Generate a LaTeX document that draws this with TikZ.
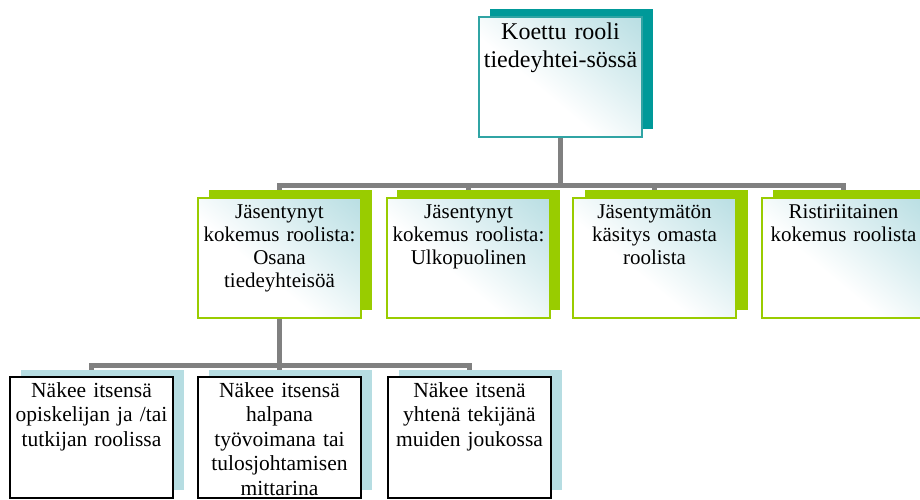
\documentclass[tikz,border=0pt]{standalone}
\usepackage{fontspec}
\setmainfont{Liberation Serif}
\definecolor{tealdark}{HTML}{009999}
\definecolor{tealborder}{HTML}{30A4A4}
\definecolor{lime}{HTML}{99CC00}
\definecolor{paleblue}{HTML}{B6DDE2}
\definecolor{gradblue}{HTML}{B4DCE1}
\definecolor{conncol}{HTML}{808080}
\pgfdeclareverticalshading{cornerfade}{100bp}{color(0bp)=(white); color(42bp)=(white); color(62bp)=(gradblue!45!white); color(88bp)=(gradblue); color(100bp)=(gradblue)}
\pgfdeclarelayer{bg}
\pgfsetlayers{bg,main}
\tikzset{
  boxw/.style={minimum width=163pt, minimum height=120pt, inner sep=0pt, outer sep=0pt, anchor=north west},
  shadowbox/.style={boxw, draw=none},
  frontbox/.style={boxw, line width=2pt},
  gradbox/.style={frontbox, shade, shading=cornerfade, shading angle=-40},
  plainbox/.style={frontbox, draw=black, fill=white, minimum height=121pt},
  lbl/.style={anchor=north, inner sep=0pt, align=center, text width=162pt},
  toplbl/.style={lbl, font=\fontsize{24}{28}\selectfont},
  midlbl/.style={lbl, font=\fontsize{21}{23.3}\selectfont},
  lowlbl/.style={lbl, font=\fontsize{21.5}{24.5}\selectfont},
  conn/.style={draw=conncol, line width=5pt},
}
\begin{document}
\begin{tikzpicture}[x=1pt,y=-1pt]
\useasboundingbox (0,0) rectangle (920,499);
% top
\node[shadowbox, fill=tealdark] (tops) at (490,9) {};
\node[gradbox, draw=tealborder] (top) at (479,17) {};
\node[toplbl] (topt) at ([yshift=-3pt]top.north) {\strut Koettu rooli\\tiedeyhtei-sössä};
% level 2
\node[shadowbox, fill=lime] (s1) at (209,190) {};
\node[gradbox, draw=lime] (c1) at (198,198) {};
\node[midlbl] (c1t) at ([yshift=-3.5pt]c1.north) {\strut Jäsentynyt\\kokemus roolista:\\Osana\\tiedeyhteisöä};
\node[shadowbox, fill=lime] (s2) at (397,190) {};
\node[gradbox, draw=lime] (c2) at (387,198) {};
\node[midlbl] (c2t) at ([yshift=-3.5pt]c2.north) {\strut Jäsentynyt\\kokemus roolista:\\Ulkopuolinen};
\node[shadowbox, fill=lime] (s3) at (585,190) {};
\node[gradbox, draw=lime] (c3) at (573,198) {};
\node[midlbl] (c3t) at ([yshift=-3.5pt]c3.north) {\strut Jäsentymätön\\käsitys omasta\\roolista};
\node[shadowbox, fill=lime] (s4) at (773,190) {};
\node[gradbox, draw=lime] (c4) at (762,198) {};
\node[midlbl] (c4t) at ([yshift=-3.5pt]c4.north) {\strut Ristiriitainen\\kokemus roolista};
% level 3
\node[shadowbox, fill=paleblue] (sa) at (21,370) {};
\node[plainbox] (ga) at (10,377) {};
\node[lowlbl] (gat) at ([yshift=-2.8pt]ga.north) {\strut Näkee itsensä\\opiskelijan ja /tai\\tutkijan roolissa};
\node[shadowbox, fill=paleblue] (sb) at (209,370) {};
\node[plainbox] (gb) at (198,377) {};
\node[lowlbl] (gbt) at ([yshift=-2.8pt]gb.north) {\strut Näkee itsensä\\halpana\\työvoimana tai\\tulosjohtamisen\\mittarina};
\node[shadowbox, fill=paleblue] (sc) at (399,370) {};
\node[plainbox] (gc) at (388,377) {};
\node[lowlbl] (gct) at ([yshift=-2.8pt]gc.north) {\strut Näkee itsenä\\yhtenä tekijänä\\muiden joukossa};
% connectors
\begin{pgfonlayer}{bg}
\draw[conn] (top.south) -- ++(0,48) coordinate (bus1);
\draw[conn] (bus1) -| (c1.north);
\draw[conn] (bus1) -| (c2.north);
\draw[conn] (bus1) -| (c3.north);
\draw[conn] (bus1) -| (c4.north);
\draw[conn] (c1.south) -- ++(0,47) coordinate (bus2);
\draw[conn] (bus2) -| (ga.north);
\draw[conn] (bus2) -| (gb.north);
\draw[conn] (bus2) -| (gc.north);
\end{pgfonlayer}
\end{tikzpicture}
\end{document}
